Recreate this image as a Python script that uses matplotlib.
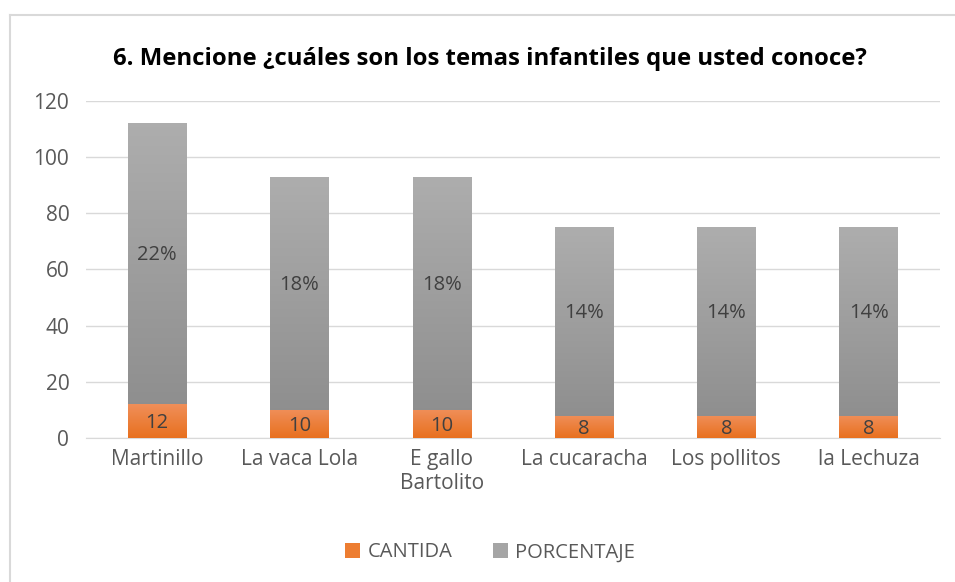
import numpy as np
import matplotlib.pyplot as plt
from matplotlib.lines import Line2D

categories = ["Martinillo", "La vaca Lola", "E gallo\nBartolito", "La cucaracha", "Los pollitos", "la Lechuza"]
cantidad = [12, 10, 10, 8, 8, 8]
porcentaje = [100, 83, 83, 67, 67, 67]
porcentaje_labels = ["22%", "18%", "18%", "14%", "14%", "14%"]

plt.rcParams['font.family'] = ['Open Sans', 'DejaVu Sans']

fig = plt.figure(figsize=(9.55, 5.82), dpi=100)
ax = fig.add_axes([0.090, 0.2474, 0.894, 0.5791])

# borde del grafico (solo arriba e izquierda se ven)
fig.lines.append(Line2D([0.0105, 1.0], [0.975, 0.975], transform=fig.transFigure,
                        color="#d9d9d9", linewidth=1.5))
fig.lines.append(Line2D([0.0105, 0.0105], [0.0, 0.975], transform=fig.transFigure,
                        color="#d9d9d9", linewidth=1.5))

x = np.arange(len(categories))
w = 0.41

def gradient_bars(bars, top_col, bot_col):
    grad = np.linspace(0, 1, 256).reshape(-1, 1)
    c1 = np.array(top_col)
    c2 = np.array(bot_col)
    img = c2 + (c1 - c2) * grad[..., None]
    for b in bars:
        x0, y0 = b.get_x(), b.get_y()
        x1, y1 = x0 + b.get_width(), y0 + b.get_height()
        im = ax.imshow(img, extent=[x0, x1, y0, y1], origin="lower", aspect="auto", zorder=3)
        im.set_clip_path(b)

b1 = ax.bar(x, cantidad, w, color="#ed7d31", zorder=3, label="CANTIDA")
b2 = ax.bar(x, porcentaje, w, bottom=cantidad, color="#a5a5a5", zorder=3, label="PORCENTAJE")
gradient_bars(b1, (0.94, 0.56, 0.35), (0.91, 0.44, 0.12))
gradient_bars(b2, (0.68, 0.68, 0.68), (0.56, 0.56, 0.56))

for i in range(len(categories)):
    ax.text(x[i], cantidad[i] / 2 - 0.8, str(cantidad[i]), ha="center", va="center",
            fontsize=14.5, color="#404040", zorder=5)
    ax.text(x[i], cantidad[i] + porcentaje[i] / 2 + 3, porcentaje_labels[i], ha="center",
            va="center", fontsize=14.5, color="#404040", zorder=5)

ax.set_xlim(-0.5, len(categories) - 0.5)
ax.set_ylim(0, 120)
ax.set_yticks(range(0, 121, 20))
ax.set_xticks(x)
ax.set_xticklabels(categories)
ax.grid(axis="y", color="#d9d9d9", linewidth=1, zorder=0)
for s in ["top", "right", "left"]:
    ax.spines[s].set_visible(False)
ax.spines["bottom"].set_color("#d9d9d9")
ax.tick_params(axis="both", length=0, labelsize=15, colors="#595959", pad=8)
ax.tick_params(axis="y", pad=12)

fig.text(0.513, 0.898, "6. Mencione ¿cuáles son los temas infantiles que usted conoce?",
         ha="center", va="center", fontsize=17.2, fontweight="bold", color="#000000")

leg = fig.legend(handles=[b1, b2], loc="center", bbox_to_anchor=(0.513, 0.051), ncol=2,
                 frameon=False, fontsize=14.5, handlelength=0.75, handleheight=0.75,
                 handletextpad=0.35, columnspacing=2)
for t in leg.get_texts():
    t.set_color("#595959")

fig.savefig("out.png", dpi=100)
